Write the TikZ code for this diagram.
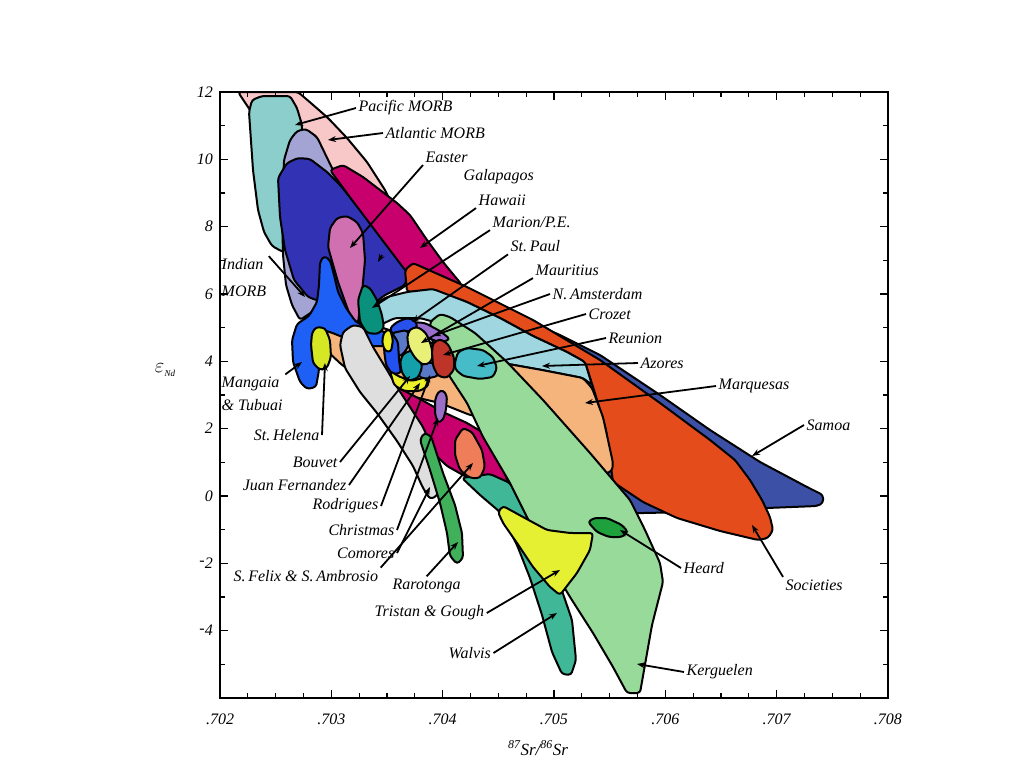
\documentclass[tikz,border=0pt]{standalone}
\usepackage{fontspec}
\setmainfont{Liberation Serif}
\usepackage{xcolor}
\definecolor{morb-atlantic}{RGB}{248,200,200}
\definecolor{morb-pacific}{RGB}{140,206,204}
\definecolor{morb-indian}{RGB}{164,164,212}
\definecolor{oib-galapagos}{RGB}{50,50,180}
\definecolor{oib-hawaii}{RGB}{200,0,110}
\definecolor{oib-easter}{RGB}{208,112,176}
\definecolor{oib-mangaia}{RGB}{30,96,245}
\definecolor{oib-marion}{RGB}{10,145,125}
\definecolor{oib-samoa}{RGB}{60,80,165}
\definecolor{oib-societies}{RGB}{228,76,28}
\definecolor{oib-azores}{RGB}{160,214,224}
\definecolor{oib-marquesas}{RGB}{244,180,124}
\definecolor{oib-walvis}{RGB}{64,184,152}
\definecolor{oib-kerguelen}{RGB}{152,218,154}
\definecolor{oib-sfelix}{RGB}{240,125,90}
\definecolor{oib-comores}{RGB}{222,222,222}
\definecolor{oib-rarotonga}{RGB}{64,176,90}
\definecolor{oib-helena}{RGB}{214,232,36}
\definecolor{oib-bouvet}{RGB}{236,240,40}
\definecolor{oib-stpaul}{RGB}{40,80,235}
\definecolor{oib-juan}{RGB}{90,120,200}
\definecolor{oib-blue}{RGB}{35,80,240}
\definecolor{oib-rodrigues}{RGB}{20,160,170}
\definecolor{oib-namsterdam}{RGB}{155,110,205}
\definecolor{oib-mauritius}{RGB}{232,240,120}
\definecolor{oib-crozet}{RGB}{190,52,40}
\definecolor{oib-reunion}{RGB}{70,188,200}
\definecolor{oib-christmas}{RGB}{155,110,200}
\definecolor{oib-tristan}{RGB}{230,240,50}
\definecolor{oib-heard}{RGB}{30,160,60}
\usepackage{tikz}
\usetikzlibrary{arrows.meta}

\begin{document}
\begin{tikzpicture}[
  x=1pt, y=-1pt,
  field/.style={draw=black, line width=2pt, line join=round, rounded corners=3pt},
  site/.style={font=\fontsize{16}{18}\selectfont\itshape, inner sep=2.5pt},
  num/.style={font=\fontsize{16}{18}\selectfont\itshape, inner sep=1pt},
  pointer/.style={line width=1.8pt, -{Stealth[length=8pt,width=6pt]}}
]
\useasboundingbox (0,0) rectangle (1024,768);
\fill[white] (0,0) rectangle (1024,768);

% MORB fields
\filldraw[field, fill=morb-atlantic] (238,92) -- (298,92) -- (312,104) -- (328,118) -- (347,138) -- (367,162) -- (385,190) -- (400,220) -- (360,225) -- (300,185) -- (268,140) -- (250,110) -- cycle;
\filldraw[field, fill=morb-pacific] (249,112) -- (252,100) -- (262,96) -- (290,96) -- (297,108) -- (302,125) -- (300,190) -- (292,250) -- (283,252) -- (272,246) -- (264,232) -- (258,210) -- (253,170) -- cycle;
\filldraw[field, fill=morb-indian] (300,320) -- (292,305) -- (286,285) -- (283,255) -- (282,210) -- (284,160) -- (290,140) -- (297,131) -- (306,129) -- (317,137) -- (332,168) -- (350,200) -- (330,300) -- cycle;

% OIB fields, back to front
\filldraw[field, fill=oib-galapagos] (278,178) -- (287,163) -- (298,158) -- (310,159) -- (327,172) -- (340,185) -- (370,222) -- (410,267) -- (405,285) -- (385,295) -- (365,310) -- (350,318) -- (335,310) -- (322,302) -- (308,297) -- (294,280) -- (285,250) -- (280,217) -- cycle;
\filldraw[field, fill=oib-hawaii] (330,170) -- (343,165) -- (363,177) -- (397,203) -- (410,215) -- (427,240) -- (443,262) -- (462,285) -- (430,290) -- (405,270) -- (380,237) -- (352,200) -- cycle;
\filldraw[field, fill=oib-samoa] (470,300) -- (520,318) -- (560,335) -- (600,355) -- (660,395) -- (710,430) -- (760,462) -- (807,487) -- (823,495) -- (823,503) -- (817,506) -- (767,508) -- (693,512) -- (643,513) -- (615,514) -- (600,480) -- (560,420) -- (500,370) -- cycle;
\filldraw[field, fill=oib-societies] (405,270) -- (413,263) -- (467,287) -- (533,320) -- (600,360) -- (660,403) -- (710,440) -- (735,460) -- (750,480) -- (762,500) -- (770,517) -- (773,530) -- (768,538) -- (758,540) -- (720,531) -- (677,518) -- (643,502) -- (613,482) -- (606,430) -- (594,390) -- (585,362) -- (567,352) -- (533,336) -- (500,318) -- (467,302) -- (433,290) -- (407,292) -- cycle;
\filldraw[field, fill=oib-azores] (375,304) -- (387,297) -- (407,292) -- (433,289) -- (467,302) -- (500,318) -- (533,336) -- (567,352) -- (585,362) -- (592,385) -- (583,378) -- (542,370) -- (497,362) -- (470,345) -- (445,325) -- (420,318) -- (395,318) -- (380,325) -- cycle;
\filldraw[field, fill=oib-marquesas] (318,332) -- (330,322) -- (350,320) -- (380,327) -- (420,340) -- (460,350) -- (497,362) -- (542,370) -- (583,378) -- (592,388) -- (603,417) -- (613,463) -- (612,471) -- (604,474) -- (590,470) -- (560,450) -- (530,430) -- (500,420) -- (470,415) -- (440,403) -- (410,396) -- (385,390) -- (362,378) -- (342,365) -- (326,350) -- cycle;
\filldraw[field, fill=oib-hawaii] (395,386) -- (420,399) -- (443,412) -- (467,423) -- (487,435) -- (500,458) -- (508,483) -- (490,484) -- (470,479) -- (447,466) -- (427,447) -- (407,422) -- (393,402) -- cycle;
\filldraw[field, fill=oib-walvis] (462,478) -- (490,474) -- (510,483) -- (527,517) -- (545,555) -- (560,585) -- (572,620) -- (576,660) -- (571,675) -- (562,674) -- (552,652) -- (542,615) -- (530,578) -- (517,545) -- (500,512) -- (480,495) -- cycle;
\filldraw[field, fill=oib-kerguelen] (430,322) -- (440,314) -- (450,317) -- (475,333) -- (507,362) -- (543,400) -- (590,453) -- (630,500) -- (645,530) -- (660,563) -- (663,582) -- (652,625) -- (640,693) -- (627,693) -- (613,667) -- (593,633) -- (570,597) -- (545,555) -- (527,517) -- (510,483) -- (483,437) -- (467,403) -- (450,377) -- (440,360) -- (432,340) -- cycle;
\filldraw[field, fill=oib-easter] (328,247) -- (330,228) -- (337,218) -- (347,216) -- (357,222) -- (363,233) -- (365,260) -- (362,293) -- (358,323) -- (354,326) -- (348,310) -- (338,282) -- cycle;
\filldraw[field, fill=oib-mangaia] (320,262) -- (324,256) -- (330,260) -- (334,275) -- (338,292) -- (346,308) -- (356,322) -- (372,330) -- (386,332) -- (388,346) -- (368,346) -- (345,338) -- (330,332) -- (322,330) -- (318,345) -- (319,370) -- (316,387) -- (307,389) -- (300,382) -- (293,362) -- (292,340) -- (297,324) -- (309,316) -- (317,302) -- (319,285) -- cycle;
\filldraw[field, fill=oib-marion] (358,300) -- (363,285) -- (370,288) -- (377,300) -- (382,315) -- (384,328) -- (378,334) -- (367,333) -- (360,322) -- cycle;
\filldraw[field, fill=oib-comores] (340,345) -- (343,332) -- (353,325) -- (363,327) -- (373,347) -- (387,370) -- (397,387) -- (410,407) -- (423,427) -- (436,457) -- (440,483) -- (437,496) -- (430,499) -- (423,488) -- (413,466) -- (397,441) -- (377,413) -- (360,392) -- (345,368) -- cycle;
\filldraw[field, fill=oib-rarotonga] (420,440) -- (424,433) -- (431,436) -- (443,473) -- (455,505) -- (462,533) -- (463,558) -- (457,564) -- (450,556) -- (447,533) -- (440,503) -- (430,470) -- cycle;
\filldraw[field, fill=oib-sfelix] (455,440) -- (463,428) -- (472,432) -- (482,450) -- (485,467) -- (480,478) -- (470,478) -- (460,470) -- (455,455) -- cycle;
\filldraw[field, fill=oib-helena] (311,345) -- (312,333) -- (316,327) -- (325,328) -- (330,340) -- (331,357) -- (327,368) -- (320,370) -- (313,363) -- cycle;

% Central cluster
\filldraw[field, fill=oib-reunion] (455,362) -- (458,352) -- (467,348) -- (483,350) -- (493,357) -- (497,368) -- (493,377) -- (480,379) -- (463,376) -- (455,369) -- cycle;
\filldraw[field, fill=oib-namsterdam] (412,322) -- (425,323) -- (440,331) -- (450,339) -- (441,343) -- (426,337) -- (415,331) -- cycle;
\filldraw[field, fill=oib-stpaul] (390,328) -- (397,322) -- (407,318) -- (414,320) -- (418,326) -- (410,331) -- (400,333) -- (392,334) -- cycle;
\filldraw[field, fill=oib-juan] (392,333) -- (407,330) -- (411,340) -- (405,352) -- (399,357) -- (396,345) -- cycle;
\filldraw[field, fill=oib-blue] (385,340) -- (392,333) -- (398,342) -- (399,360) -- (401,373) -- (392,374) -- (386,365) -- (384,350) -- cycle;
\filldraw[field, fill=oib-bouvet] (382,342) -- (384,332) -- (390,329) -- (393,340) -- (391,352) -- (385,351) -- cycle;
\filldraw[field, fill=oib-bouvet] (390,371) -- (400,377) -- (412,381) -- (426,377) -- (429,385) -- (420,391) -- (404,391) -- (394,385) -- cycle;
\filldraw[field, fill=oib-juan] (418,366) -- (430,362) -- (440,367) -- (438,376) -- (425,379) -- (418,376) -- cycle;
\filldraw[field, fill=oib-rodrigues] (400,362) -- (403,354) -- (412,350) -- (420,355) -- (422,368) -- (418,378) -- (408,381) -- (402,373) -- cycle;
\filldraw[field, fill=oib-mauritius] (407,337) -- (410,329) -- (418,327) -- (426,333) -- (431,345) -- (433,356) -- (430,363) -- (423,365) -- (415,358) -- (409,348) -- cycle;
\filldraw[field, fill=oib-crozet] (432,352) -- (433,343) -- (440,339) -- (448,344) -- (454,357) -- (454,370) -- (447,378) -- (438,376) -- (433,366) -- cycle;
\filldraw[field, fill=oib-christmas] (435,400) -- (438,392) -- (443,390) -- (447,396) -- (446,410) -- (443,420) -- (438,423) -- (435,414) -- cycle;
\filldraw[field, fill=oib-tristan] (498,512) -- (503,506) -- (523,517) -- (547,530) -- (570,533) -- (593,533) -- (590,550) -- (577,573) -- (560,595) -- (550,587) -- (533,567) -- (517,543) -- (503,523) -- cycle;
\filldraw[field, fill=oib-heard] (588,522) -- (594,518) -- (607,518) -- (622,525) -- (628,532) -- (622,537) -- (609,537) -- (597,532) -- cycle;

% Frame and ticks
\draw[line width=1.6pt] (220,92) rectangle (888,698);
\foreach \i in {0,...,24} {
  \pgfmathsetmacro\tx{220+\i*27.833}
  \pgfmathsetmacro\tl{mod(\i,4)==0 ? 8 : 5}
  \draw[line width=1.3pt] (\tx,698) -- ++(0,-\tl);
  \draw[line width=1.3pt] (\tx,92) -- ++(0,\tl);
}
\foreach \e in {-6,...,12} {
  \pgfmathsetmacro\ty{92+(12-\e)*33.667}
  \pgfmathsetmacro\tl{mod(abs(\e),2)==0 ? 8 : 5}
  \draw[line width=1.3pt] (220,\ty) -- ++(\tl,0);
  \draw[line width=1.3pt] (888,\ty) -- ++(-\tl,0);
}

% Tick labels
\foreach \i/\lab in {0/.702,1/.703,2/.704,3/.705,4/.706,5/.707,6/.708}
  \node[num] (xl-\i) at (220+\i*111.33,719) {\lab};
\foreach \e/\lab in {12/12,10/10,8/8,6/6,4/4,2/2,0/0,-2/\raisebox{0.4ex}{-}2,-4/\raisebox{0.4ex}{-}4}
  \node[num, anchor=east] (yl-\e) at (214,92+12*33.667-\e*33.667) {\lab};

% Axis titles
\node[font=\fontsize{17}{19}\selectfont\itshape] (sr) at (538,748) {\textsuperscript{87}Sr/\textsuperscript{86}Sr};
\node[font=\fontsize{20}{22}\selectfont] (nd) at (165,370) {$\varepsilon$\raisebox{-0.5ex}{\fontsize{9}{10}\selectfont\itshape Nd}};

% Labels
\node[site, anchor=west] (pacific) at (356,108) {Pacific MORB};
\node[site, anchor=west] (atlantic) at (383,133) {Atlantic MORB};
\node[site, anchor=west] (easter) at (423,157) {Easter};
\node[site, anchor=west] (galapagos) at (461,177) {Galapagos};
\node[site, anchor=west] (hawaii) at (476,200) {Hawaii};
\node[site, anchor=west] (marion) at (490,222) {Marion/P.E.};
\node[site, anchor=west] (stpaul) at (508,246) {St.\,Paul};
\node[site, anchor=west] (mauritius) at (533,270) {Mauritius};
\node[site, anchor=west] (namsterdam) at (550,294) {N.\,Amsterdam};
\node[site, anchor=west] (crozet) at (586,314) {Crozet};
\node[site, anchor=west] (reunion) at (606,338) {Reunion};
\node[site, anchor=west] (azores) at (638,363) {Azores};
\node[site, anchor=west] (marquesas) at (716,386) {Marquesas};
\node[site, anchor=west] (samoa) at (804,425) {Samoa};
\node[site, anchor=west] (heard) at (681,568) {Heard};
\node[site, anchor=west] (societies) at (783,585) {Societies};
\node[site, anchor=west] (kerguelen) at (684,672) {Kerguelen};
\node[site, anchor=west] (walvis) at (446,653) {Walvis};
\node[site, anchor=west] (tristan) at (372,613) {Tristan \& Gough};
\node[site, anchor=west] (rarotonga) at (390,586) {Rarotonga};
\node[site, anchor=west] (sfelix) at (231,576) {S.\,Felix \& S.\,Ambrosio};
\node[site, anchor=east] (comores) at (397,553) {Comores};
\node[site, anchor=east] (christmas) at (397,530) {Christmas};
\node[site, anchor=east] (rodrigues) at (381,506) {Rodrigues};
\node[site, anchor=east] (juan) at (349,485) {Juan Fernandez};
\node[site, anchor=east] (bouvet) at (340,462) {Bouvet};
\node[site, anchor=east] (helena) at (322,435) {St.\,Helena};
\node[site, anchor=west, align=left, font=\fontsize{16}{23}\selectfont\itshape] (mangaia) at (219,394) {Mangaia\\\& Tubuai};
\node[site, anchor=west, align=left, font=\fontsize{16}{27}\selectfont\itshape] (indian) at (219,278) {Indian\\MORB};

% Arrow tips
\coordinate (t-pacific) at (295,125);
\coordinate (t-atlantic) at (328,140);
\coordinate (t-easter) at (350,248);
\coordinate (galapagos-from) at (382,255);
\coordinate (t-galapagos) at (378,262);
\coordinate (t-hawaii) at (420,248);
\coordinate (t-marion) at (372,308);
\coordinate (t-stpaul) at (412,322);
\coordinate (t-mauritius) at (421,343);
\coordinate (t-namsterdam) at (433,336);
\coordinate (t-crozet) at (443,355);
\coordinate (t-reunion) at (477,366);
\coordinate (t-azores) at (542,366);
\coordinate (t-marquesas) at (585,403);
\coordinate (t-samoa) at (752,456);
\coordinate (t-societies) at (752,525);
\coordinate (t-heard) at (620,530);
\coordinate (t-kerguelen) at (637,664);
\coordinate (t-walvis) at (557,613);
\coordinate (t-tristan) at (560,570);
\coordinate (t-rarotonga) at (458,542);
\coordinate (t-sfelix) at (473,463);
\coordinate (t-comores) at (430,487);
\coordinate (t-christmas) at (438,418);
\coordinate (t-rodrigues) at (430,375);
\coordinate (t-juan) at (420,383);
\coordinate (t-bouvet) at (410,376);
\coordinate (t-helena) at (325,363);
\coordinate (t-mangaia) at (302,362);
\coordinate (t-indian) at (305,297);

% Pointers
\draw[pointer] (pacific.west) -- (t-pacific);
\draw[pointer] (atlantic.west) -- (t-atlantic);
\draw[pointer] (easter.south west) -- (t-easter);
\draw[pointer] (galapagos-from) -- (t-galapagos);
\draw[pointer] (hawaii.south west) -- (t-hawaii);
\draw[pointer] (marion.south west) -- (t-marion);
\draw[pointer] (stpaul.south west) -- (t-stpaul);
\draw[pointer] (mauritius.south west) -- (t-mauritius);
\draw[pointer] (namsterdam.west) -- (t-namsterdam);
\draw[pointer] (crozet.west) -- (t-crozet);
\draw[pointer] (reunion.west) -- (t-reunion);
\draw[pointer] (azores.west) -- (t-azores);
\draw[pointer] (marquesas.west) -- (t-marquesas);
\draw[pointer] (samoa.west) -- (t-samoa);
\draw[pointer] (societies.north west) -- (t-societies);
\draw[pointer] (heard.west) -- (t-heard);
\draw[pointer] (kerguelen.west) -- (t-kerguelen);
\draw[pointer] (walvis.east) -- (t-walvis);
\draw[pointer] (tristan.east) -- (t-tristan);
\draw[pointer] (rarotonga.north) -- (t-rarotonga);
\draw[pointer] (sfelix.north east) -- (t-sfelix);
\draw[pointer] (comores.east) -- (t-comores);
\draw[pointer] (christmas.east) -- (t-christmas);
\draw[pointer] (rodrigues.east) -- (t-rodrigues);
\draw[pointer] (juan.east) -- (t-juan);
\draw[pointer] (bouvet.east) -- (t-bouvet);
\draw[pointer] (helena.east) -- (t-helena);
\draw[pointer] (mangaia.north east) -- (t-mangaia);
\draw[pointer] (indian.north east) -- (t-indian);

\end{tikzpicture}
\end{document}
